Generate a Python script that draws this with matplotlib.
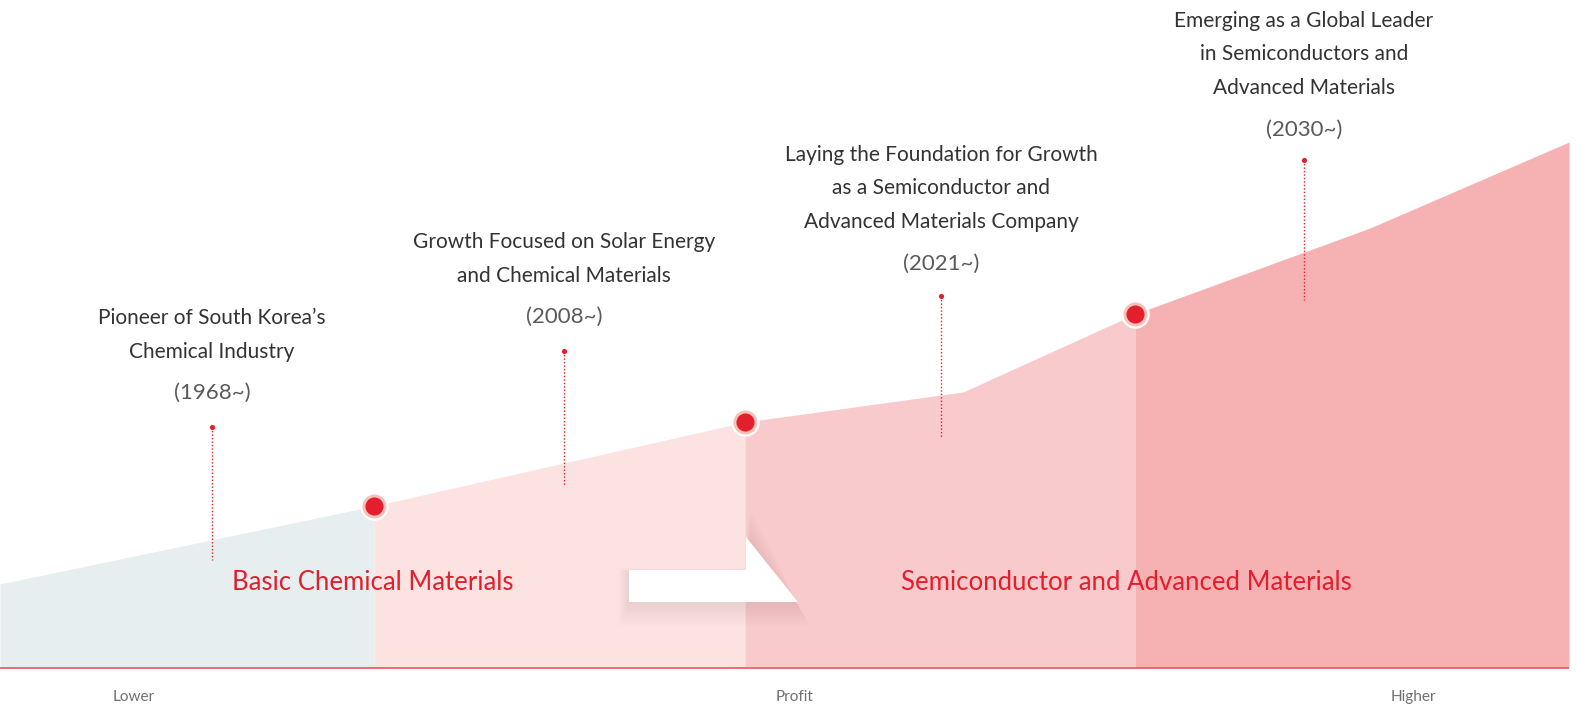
import matplotlib
matplotlib.use("Agg")
import matplotlib.pyplot as plt
from matplotlib.patches import Polygon
import numpy as np

# ---------------- data ----------------
W, H = 1576, 708
baseline = 40
# profit profile (x position, height in px units, y up)
profile_x = [0, 374, 745, 963, 1135, 1370, 1576]
profile_y = [124, 202, 286, 316, 394, 480, 569]
# stage boundaries and colours
stage_bounds = [0, 374, 745, 1135, 1569]
stage_colors = ["#e6eef0", "#fce3e2", "#f8cacb", "#f6b2b3"]
# milestone markers at stage boundaries
marker_x = [374, 745, 1135]

# annotation groups
group_x = [212, 564, 941, 1304]
group_lines = [
    ["Pioneer of South Korea\u2019s", "Chemical Industry"],
    ["Growth Focused on Solar Energy", "and Chemical Materials"],
    ["Laying the Foundation for Growth", "as a Semiconductor and", "Advanced Materials Company"],
    ["Emerging as a Global Leader", "in Semiconductors and", "Advanced Materials"],
]
group_years = ["(1968~)", "(2008~)", "(2021~)", "(2030~)"]
group_top = [318, 242, 155, 21]          # first line centre (from top)
stem_top = [427, 351, 296, 160]          # dotted stem (from top)
stem_bottom = [560, 485, 437, 300]

category_labels = ["Basic Chemical Materials", "Semiconductor and Advanced Materials"]
category_x = [373, 1126]
axis_labels = ["Lower", "Profit", "Higher"]
axis_label_x = [134, 795, 1413]

RED = "#e31e2d"
FONT = "Lato"

fig = plt.figure(figsize=(W / 100, H / 100), dpi=100)
ax = fig.add_axes([0, 0, 1, 1])
ax.set_xlim(0, W)
ax.set_ylim(0, H)
ax.axis("off")


def top(y):
    return H - y


px = np.array(profile_x, float)
py = np.array(profile_y, float)

# stage areas
for i, c in enumerate(stage_colors):
    x0, x1 = stage_bounds[i], stage_bounds[i + 1]
    xs = np.concatenate(([x0], px[(px > x0) & (px < x1)], [x1]))
    ys = np.interp(xs, px, py)
    ax.fill_between(xs, baseline, ys, color=c, lw=0, zorder=1)

# baseline
ax.plot([0, 1568], [baseline, baseline], color="#ec6a73", lw=1.4, zorder=2)

# arrow with soft shadow
arrow = np.array([[629, 570], [746, 570], [746, 537], [798, 602], [629, 602]], float)
arrow[:, 1] = H - arrow[:, 1]
for k in range(18, 0, -1):
    sh = arrow.copy()
    sh[:, 1] -= 3
    cx, cy = sh.mean(axis=0)
    sh = (sh - [cx, cy]) * [1 + k / 140, 1 + k / 22] + [cx, cy]
    ax.add_patch(Polygon(sh, closed=True, color="#c46868", alpha=0.009, lw=0, zorder=3))
ax.add_patch(Polygon(arrow, closed=True, color="white", lw=0, zorder=4))

# markers
my = np.interp(marker_x, px, py)
ax.scatter(marker_x, my, s=420, color="white", zorder=5, lw=0)
ax.scatter(marker_x, my, s=300, color="#f7c0b8", zorder=6, lw=0)
ax.scatter(marker_x, my, s=170, color=RED, zorder=7, lw=0)

# dotted stems and annotations
for i in range(4):
    x = group_x[i]
    ax.plot([x, x], [top(stem_top[i]), top(stem_bottom[i])], color=RED, lw=1.0,
            ls=(0, (1, 1.5)), zorder=8)
    ax.scatter([x], [top(stem_top[i])], s=14, color=RED, zorder=9, lw=0)
    y = group_top[i]
    for line in group_lines[i]:
        ax.text(x, top(y), line, ha="center", va="center", fontsize=15,
                color="#333333", family=FONT, zorder=10)
        y += 33.5
    ax.text(x, top(y + 8), group_years[i], ha="center", va="center", fontsize=16,
            color="#5a5a5a", family=FONT, zorder=10)

for lab, x in zip(category_labels, category_x):
    ax.text(x, top(583), lab, ha="center", va="center", fontsize=18.5,
            color=RED, family=FONT, zorder=10)

for lab, x in zip(axis_labels, axis_label_x):
    ax.text(x, top(697), lab, ha="center", va="center", fontsize=11,
            color="#707070", family=FONT, zorder=10)

fig.savefig("out.png", dpi=100)
